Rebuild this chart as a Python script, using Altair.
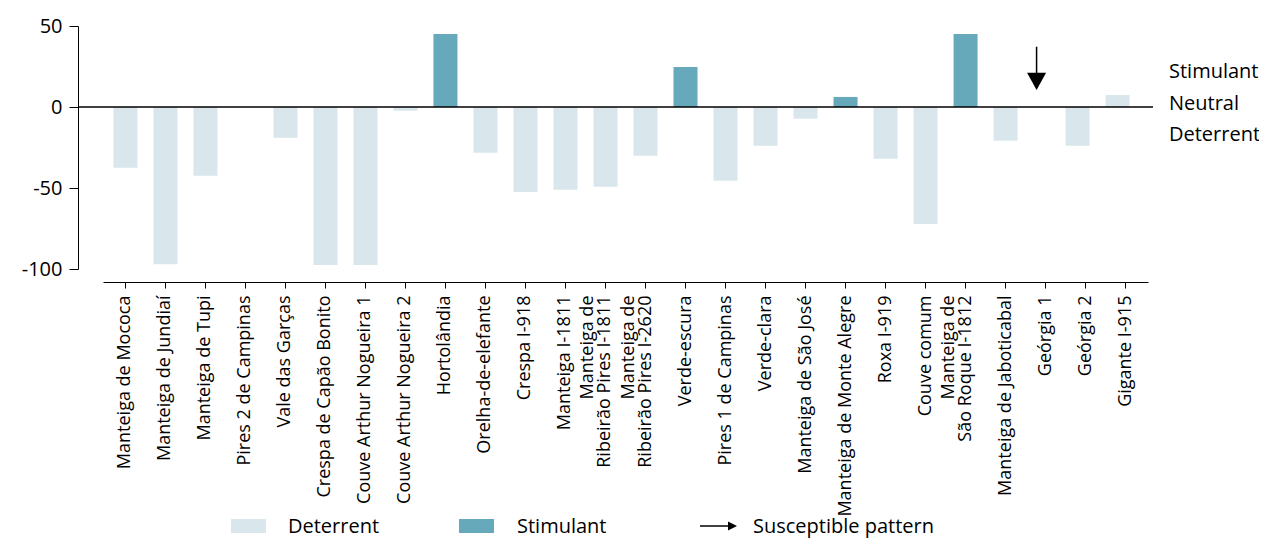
import altair as alt
import pandas as pd

FONT = "Open Sans"
LIGHT = "#d9e7ec"
DARK = "#65a9bb"

cultivars = [
    "Manteiga de Mococa", "Manteiga de Jundiaí", "Manteiga de Tupi", "Pires 2 de Campinas",
    "Vale das Garças", "Crespa de Capão Bonito", "Couve Arthur Nogueira 1", "Couve Arthur Nogueira 2",
    "Hortolândia", "Orelha-de-elefante", "Crespa I-918", "Manteiga I-1811",
    "Manteiga de\nRibeirão Pires I-1811", "Manteiga de\nRibeirão Pires I-2620", "Verde-escura",
    "Pires 1 de Campinas", "Verde-clara", "Manteiga de São José", "Manteiga de Monte Alegre",
    "Roxa I-919", "Couve comum", "Manteiga de\nSão Roque I-1812", "Manteiga de Jaboticabal",
    "Geórgia 1", "Geórgia 2", "Gigante I-915",
]
values = [-37.5, -97, -42.5, 0, -19, -97.5, -97.5, -2.3, 45, -28.3, -52.4, -51.1, -49.3,
          -30.1, 24.7, -45.6, -23.9, -7.2, 6.2, -32, -72.2, 45, -20.8, 0, -23.9, 7.4]
effects = ["Deterrent"] * 26
for i in (8, 14, 18, 21):
    effects[i] = "Stimulant"

# the last cultivars are drawn slightly left of their ticks in the original figure
nudged = ["Geórgia 1", "Geórgia 2", "Gigante I-915"]

y_ticks = [-100, -50, 0, 50]
side_labels = ["Stimulant", "Neutral", "Deterrent"]
legend_labels = ["Deterrent", "Stimulant", "Susceptible pattern"]

arrow_cultivar = ["Geórgia 1"]
arrow_top = [37.2]
arrow_base = [21]
arrow_head = [15.8]

df = pd.DataFrame({"cultivar": cultivars, "value": values, "effect": effects})

x_scale = alt.Scale(domain=cultivars, paddingInner=0.4, paddingOuter=0.26)
y_scale = alt.Scale(domain=[-100, 50], nice=False, zero=False)

x_axis = alt.Axis(title=None, labelAngle=270, labelFontSize=18, labelFont=FONT,
                  labelColor="black", domainColor="black", tickColor="black",
                  tickSize=6, labelPadding=7, offset=13, labelLimit=0,
                  labelOverlap=False, labelLineHeight=17,
                  labelOffset=alt.condition("indexof(datum.value, '\\n') >= 0",
                                            alt.value(-17), alt.value(0)),
                  labelExpr="split(datum.label, '\\n')")
y_axis = alt.Axis(title=None, values=y_ticks, labelExpr="'' + datum.value",
                  labelFontSize=20, labelFont=FONT, labelColor="black",
                  domainColor="black", tickColor="black", tickSize=9,
                  labelPadding=7, offset=25, grid=False)

color = alt.Color("effect:N", scale=alt.Scale(domain=["Deterrent", "Stimulant"],
                                              range=[LIGHT, DARK]), legend=None)

bars = alt.Chart(df).mark_bar().encode(
    x=alt.X("cultivar:N", scale=x_scale, sort=None, title=None, axis=x_axis),
    y=alt.Y("value:Q", scale=y_scale, title=None, axis=y_axis),
    y2=alt.datum(0),
    color=color,
).transform_filter(~alt.FieldOneOfPredicate(field="cultivar", oneOf=nudged))

bars_nudged = alt.Chart(df).mark_bar(xOffset=-8).encode(
    x=alt.X("cultivar:N", scale=x_scale, sort=None, title=None),
    y=alt.Y("value:Q", scale=y_scale, title=None),
    y2=alt.datum(0),
    color=color,
).transform_filter(alt.FieldOneOfPredicate(field="cultivar", oneOf=nudged))

zero = alt.Chart(pd.DataFrame({"value": [0]})).mark_rule(color="black", strokeWidth=1.6).encode(
    y=alt.Y("value:Q", scale=y_scale, title=None),
    x=alt.value(-25), x2=alt.value(1050),
)

arrow_df = pd.DataFrame({"cultivar": arrow_cultivar, "top": arrow_top,
                         "base": arrow_base, "head": arrow_head})
arrow_line = alt.Chart(arrow_df).mark_rule(color="black", strokeWidth=1.5, xOffset=-9).encode(
    x=alt.X("cultivar:N", scale=x_scale, title=None),
    y=alt.Y("top:Q", scale=y_scale, title=None),
    y2=alt.Y2("base:Q", title=None),
)
arrow_tip = alt.Chart(arrow_df).mark_point(
    shape="M-1,-0.9L1,-0.9L0,0.9Z", filled=True, size=361, color="black",
    opacity=1, strokeWidth=0, xOffset=-9).encode(
    x=alt.X("cultivar:N", scale=x_scale, title=None),
    y=alt.Y("head:Q", scale=y_scale, title=None),
)

layers = [bars, bars_nudged, zero, arrow_line, arrow_tip]

side_y = [52.3, 84, 115]
for lab, yy in zip(side_labels, side_y):
    layers.append(
        alt.Chart(pd.DataFrame({"t": [lab]})).mark_text(
            align="left", baseline="alphabetic", fontSize=20, font=FONT, color="black"
        ).encode(text="t:N", x=alt.value(1066), y=alt.value(yy))
    )

# legend
LEG_BASE = 507
sw_x = [128, 356]
for lab, col, x0 in zip(legend_labels[:2], [LIGHT, DARK], sw_x):
    layers.append(
        alt.Chart(pd.DataFrame({"t": [lab]})).mark_rect(color=col).encode(
            x=alt.value(x0), x2=alt.value(x0 + 35),
            y=alt.value(LEG_BASE - 14), y2=alt.value(LEG_BASE))
    )
text_x = [185, 414, 650]
for lab, tx in zip(legend_labels, text_x):
    layers.append(
        alt.Chart(pd.DataFrame({"t": [lab]})).mark_text(
            align="left", baseline="alphabetic", fontSize=20, font=FONT, color="black"
        ).encode(text="t:N", x=alt.value(tx), y=alt.value(LEG_BASE))
    )
layers.append(
    alt.Chart(pd.DataFrame({"t": [legend_labels[2]]})).mark_rule(color="black", strokeWidth=1.5).encode(
        x=alt.value(597), x2=alt.value(626), y=alt.value(LEG_BASE - 7))
)
layers.append(
    alt.Chart(pd.DataFrame({"t": [legend_labels[2]]})).mark_point(
        shape="M-1,-1L1,0L-1,1Z", filled=True, size=81, color="black", opacity=1, strokeWidth=0
    ).encode(x=alt.value(629.5), y=alt.value(LEG_BASE - 7))
)

chart = alt.layer(*layers).properties(
    width=1045, height=243,
    padding={"left": 95, "top": 18, "right": 111, "bottom": 272},
    autosize=alt.AutoSizeParams(type="none"),
).configure(font=FONT, view=alt.ViewConfig(stroke=None))

chart.save("out.html", embed_options={"renderer": "svg", "actions": False})
